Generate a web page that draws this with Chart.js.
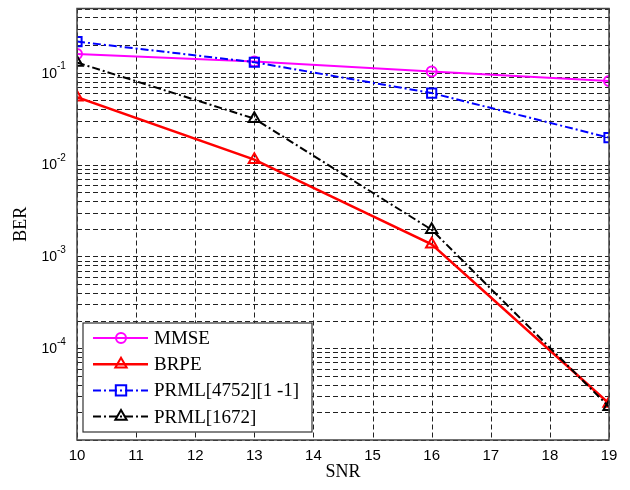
<html><head>
<meta charset="utf-8">
<title>BER vs SNR</title>
<script src="https://cdn.jsdelivr.net/npm/chart.js"></script>
<style>
body { margin: 0; background: #fff; }
#wrap { width: 630px; height: 490px; }
</style>
</head>
<body>
<div id="wrap"><canvas id="ber" width="630" height="490"></canvas></div>
<script>
// values
const snr = [10, 13, 16, 19];
const mmse = [0.16, 0.132, 0.103, 0.081];
const brpe = [0.054, 0.0113, 0.00135, 2.5e-5];
const prml4752 = [0.218, 0.13, 0.06, 0.0196];
const prml1672 = [0.129, 0.0316, 0.00195, 2.3e-5];
const seriesNames = ['MMSE', 'BRPE', 'PRML[4752][1 -1]', 'PRML[1672]'];
const xMin = 10, xMax = 19;
const yMin = 1e-5, yMax = 0.5;
const yDecades = [-4, -3, -2, -1];

function points(ys) {
    var out = [];
    for (var i = 0; i < snr.length; i++) {
        out.push({x: snr[i], y: ys[i]});
    }
    return out;
}

var dashDot = [8, 3, 2, 3];
var gridDash = [5, 3];
var datasets = [
    {label: seriesNames[0], data: points(mmse), borderColor: '#ff00ff', borderWidth: 2,
     pointStyle: 'circle', pointRadius: 5, order: 4},
    {label: seriesNames[1], data: points(brpe), borderColor: '#ff0000', borderWidth: 2.5,
     pointStyle: 'triangle', pointRadius: 6.5, order: 3},
    {label: seriesNames[2], data: points(prml4752), borderColor: '#0000ff', borderWidth: 2,
     borderDash: dashDot, pointStyle: 'rect', pointRadius: 6.5, order: 2},
    {label: seriesNames[3], data: points(prml1672), borderColor: '#000000', borderWidth: 2,
     borderDash: dashDot, pointStyle: 'triangle', pointRadius: 6.5, order: 1},
];
datasets.forEach(function(d) {
    d.backgroundColor = 'rgba(0,0,0,0)';
    d.pointBorderWidth = 2;
    d.showLine = true;
    d.tension = 0;
});

function drawMarker(ctx, style, x, y, r) {
    ctx.beginPath();
    if (style === 'circle') {
        ctx.arc(x, y, r, 0, Math.PI * 2);
    } else if (style === 'rect') {
        ctx.rect(x - r * 0.8, y - r * 0.8, r * 1.6, r * 1.6);
    } else {
        ctx.moveTo(x, y - r);
        ctx.lineTo(x + r * 0.87, y + r * 0.5);
        ctx.lineTo(x - r * 0.87, y + r * 0.5);
        ctx.closePath();
    }
    ctx.stroke();
}

const matlabLook = {
    id: 'matlabLook',
    // dashed grid, drawn under the data like matlab's "grid on"
    beforeDatasetsDraw: function(chart) {
        var ctx = chart.ctx;
        var a = chart.chartArea;
        ctx.save();
        ctx.strokeStyle = '#222';
        ctx.lineWidth = 1;
        ctx.setLineDash(gridDash);
        chart.scales.x.ticks.forEach(function(t) {
            var x = Math.round(chart.scales.x.getPixelForValue(t.value)) + 0.5;
            ctx.beginPath();
            ctx.moveTo(x, a.top);
            ctx.lineTo(x, a.bottom);
            ctx.stroke();
        });
        chart.scales.y.ticks.forEach(function(t) {
            var y = Math.round(chart.scales.y.getPixelForValue(t.value)) + 0.5;
            ctx.beginPath();
            ctx.moveTo(a.left, y);
            ctx.lineTo(a.right, y);
            ctx.stroke();
        });
        ctx.restore();
    },
    afterDatasetsDraw: function(chart) {
        var ctx = chart.ctx;
        var a = chart.chartArea;
        var yScale = chart.scales.y;
        ctx.save();
        // axes box
        ctx.setLineDash([]);
        ctx.strokeStyle = '#444';
        ctx.lineWidth = 1.5;
        ctx.strokeRect(a.left, a.top, a.right - a.left, a.bottom - a.top);

        // y tick labels 10^n
        ctx.fillStyle = '#000';
        ctx.textBaseline = 'middle';
        yDecades.forEach(function(d) {
            var y = yScale.getPixelForValue(Math.pow(10, d));
            ctx.font = '14px "Liberation Sans", Arial, sans-serif';
            ctx.textAlign = 'right';
            ctx.fillText('10', 57, y + 1);
            ctx.font = '10px "Liberation Sans", Arial, sans-serif';
            ctx.textAlign = 'left';
            ctx.fillText(String(d), 57, y - 6);
        });

        // legend box
        var bx = 83, by = 323, bw = 229, bh = 109;
        ctx.fillStyle = '#fff';
        ctx.fillRect(bx, by, bw, bh);
        ctx.strokeStyle = '#333';
        ctx.lineWidth = 1.2;
        ctx.strokeRect(bx, by, bw, bh);
        for (var i = 0; i < datasets.length; i++) {
            var ds = datasets[i];
            var y = 338 + i * 26.2;
            ctx.strokeStyle = ds.borderColor;
            ctx.lineWidth = ds.borderWidth;
            ctx.setLineDash(ds.borderDash || []);
            ctx.beginPath();
            ctx.moveTo(93, y);
            ctx.lineTo(148, y);
            ctx.stroke();
            ctx.setLineDash([]);
            ctx.lineWidth = 2;
            drawMarker(ctx, ds.pointStyle, 121, y, ds.pointRadius);
            ctx.fillStyle = '#000';
            ctx.font = '19px "Liberation Serif", "Times New Roman", serif';
            ctx.textAlign = 'left';
            ctx.textBaseline = 'middle';
            ctx.fillText(ds.label, 154, y + 1);
        }
        ctx.restore();
    }
};

new Chart(document.getElementById('ber'), {
    type: 'scatter',
    data: {datasets: datasets},
    plugins: [matlabLook],
    options: {
        responsive: false,
        animation: false,
        events: [],
        layout: {padding: {left: 0, right: 21, top: 7, bottom: 0}},
        plugins: {legend: {display: false}, tooltip: {enabled: false}},
        scales: {
            x: {
                type: 'linear',
                min: xMin,
                max: xMax,
                afterFit: function(s) { s.height = 50; },
                ticks: {
                    stepSize: 1,
                    padding: 7,
                    color: '#000',
                    font: {family: '"Liberation Sans", Arial, sans-serif', size: 15}
                },
                grid: {display: false, drawTicks: false},
                border: {display: false},
                title: {
                    display: true,
                    text: 'SNR',
                    color: '#000',
                    padding: {top: 0, bottom: 7},
                    font: {family: '"Liberation Serif", "Times New Roman", serif', size: 18}
                }
            },
            y: {
                type: 'logarithmic',
                min: yMin,
                max: yMax,
                afterFit: function(s) { s.width = 77; },
                afterBuildTicks: function(s) {
                    var t = [];
                    for (var d = -5; d <= -1; d++) {
                        for (var m = 1; m <= 9; m++) {
                            var v = m * Math.pow(10, d);
                            if (v >= yMin && v <= yMax * 1.0001) t.push({value: v});
                        }
                    }
                    s.ticks = t;
                },
                ticks: {display: false},
                grid: {display: false, drawTicks: false},
                border: {display: false},
                title: {
                    display: true,
                    text: 'BER',
                    color: '#000',
                    padding: {top: 10, bottom: 0},
                    font: {family: '"Liberation Serif", "Times New Roman", serif', size: 18}
                }
            }
        }
    }
});
</script>
</body></html>
